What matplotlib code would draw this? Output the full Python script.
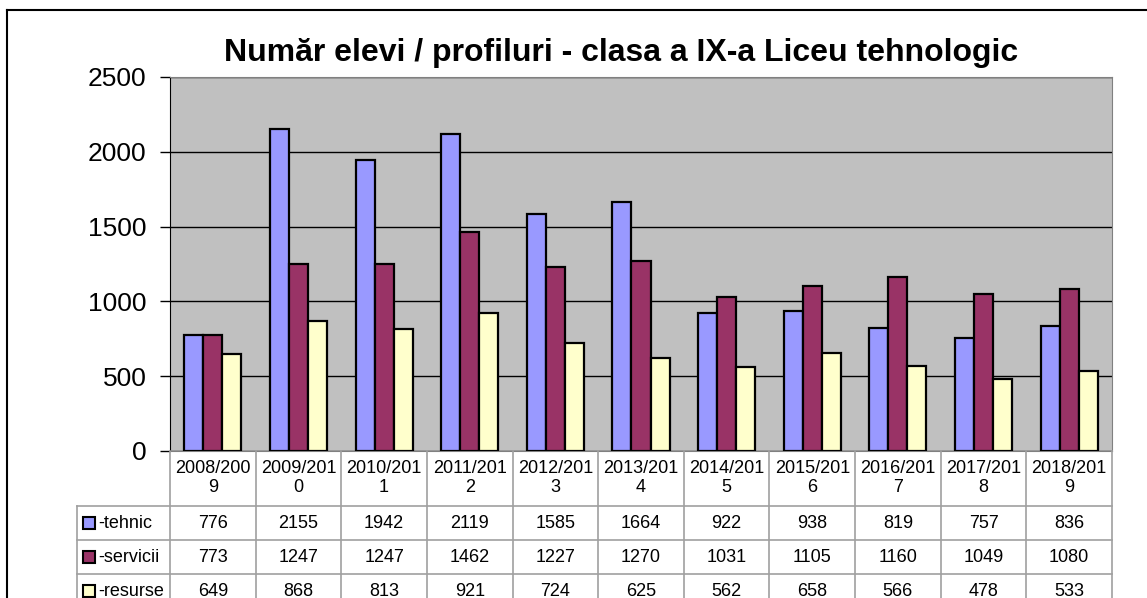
import matplotlib
matplotlib.use("Agg")
import matplotlib.pyplot as plt
from matplotlib.patches import Rectangle
from matplotlib.lines import Line2D
import numpy as np

plt.rcParams["font.family"] = ["Liberation Sans", "DejaVu Sans"]

# data
years = ["2008/2009", "2009/2010", "2010/2011", "2011/2012", "2012/2013", "2013/2014",
         "2014/2015", "2015/2016", "2016/2017", "2017/2018", "2018/2019"]
tehnic = [776, 2155, 1942, 2119, 1585, 1664, 922, 938, 819, 757, 836]
servicii = [773, 1247, 1247, 1462, 1227, 1270, 1031, 1105, 1160, 1049, 1080]
resurse = [649, 868, 813, 921, 724, 625, 562, 658, 566, 478, 533]
series_names = ["-tehnic", "-servicii", "-resurse"]
colors = ["#9999FF", "#993366", "#FFFFCC"]

W, H = 1147, 598
fig = plt.figure(figsize=(W / 100, H / 100), dpi=100)

# pixel geometry of the plot area
px_l, px_r, px_t, px_b = 170, 1112, 77, 451
ax = fig.add_axes([px_l / W, 1 - px_b / H, (px_r - px_l) / W, (px_b - px_t) / H])
ax.set_facecolor("#C0C0C0")

x = np.arange(len(years))
bw = 0.222
for i, (vals, c) in enumerate(zip([tehnic, servicii, resurse], colors)):
    ax.bar(x + (i - 1) * bw, vals, bw, color=c, edgecolor="black", linewidth=1.6, zorder=3)

ax.set_xlim(-0.5, len(years) - 0.5)
ax.set_ylim(0, 2500)
ax.set_yticks(range(0, 2501, 500))
ax.tick_params(axis="y", labelsize=19, length=7, width=1, direction="out", pad=10)
ax.set_xticks([])
ax.yaxis.grid(True, color="black", linewidth=1)
ax.set_axisbelow(True)
for s in ["top", "right"]:
    ax.spines[s].set_color("#808080")
ax.spines["left"].set_color("black")
ax.spines["bottom"].set_color("#808080")

fig.text(621 / W, 1 - 53 / H, "Număr elevi / profiluri - clasa a IX-a Liceu tehnologic",
         ha="center", va="center", fontsize=23, fontweight="bold")

# overlay in pixel coords for table and frame
ov = fig.add_axes([0, 0, 1, 1], facecolor="none")
ov.set_xlim(0, W)
ov.set_ylim(H, 0)
ov.axis("off")

# outer frame
ov.add_line(Line2D([7, W], [10, 10], color="black", lw=1.5))
ov.add_line(Line2D([7, 7], [10, H], color="black", lw=1.5))

gc = "#A0A0A0"
cw = (px_r - px_l) / len(years)
row_y = [451, 506, 540, 574, 608]
tab_l = 77

# vertical lines
for i in range(len(years) + 1):
    xv = px_l + i * cw
    ov.add_line(Line2D([xv, xv], [row_y[0], H], color=gc, lw=1.2))
ov.add_line(Line2D([tab_l, tab_l], [row_y[1], H], color=gc, lw=1.2))
# horizontal lines
for yv in row_y[1:4]:
    ov.add_line(Line2D([tab_l, px_r], [yv, yv], color=gc, lw=1.2))

# header
for i, yr in enumerate(years):
    xc = px_l + (i + 0.5) * cw
    ov.text(xc, 478, yr[:-1] + "\n" + yr[-1], ha="center", va="center",
            fontsize=13, linespacing=1.1)

# rows
for r, (name, vals, c) in enumerate(zip(series_names, [tehnic, servicii, resurse], colors)):
    yc = (row_y[r + 1] + row_y[r + 2]) / 2
    ov.add_patch(Rectangle((83, yc - 6), 12, 12, facecolor=c, edgecolor="black", lw=1.5))
    ov.text(98, yc, name, ha="left", va="center", fontsize=13)
    for i, v in enumerate(vals):
        ov.text(px_l + (i + 0.5) * cw, yc, str(v), ha="center", va="center", fontsize=13)

fig.savefig("out.png", dpi=100)
